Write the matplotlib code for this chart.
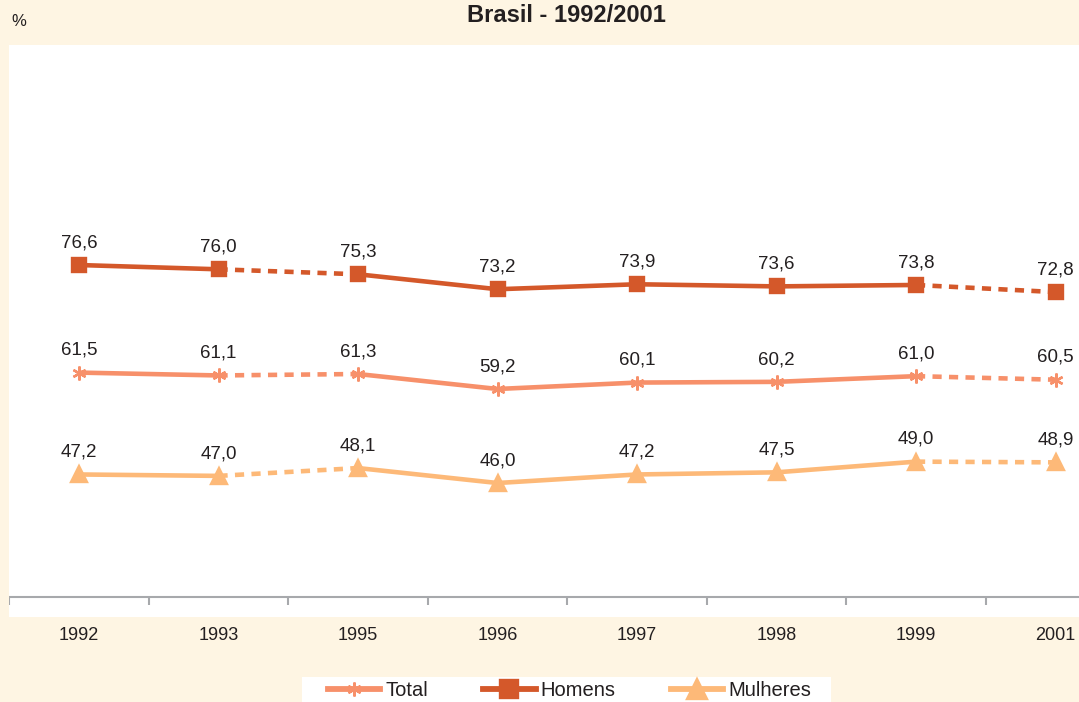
import matplotlib.pyplot as plt
from matplotlib.lines import Line2D
from matplotlib.patches import Rectangle

# Data
years = ['1992', '1993', '1995', '1996', '1997', '1998', '1999', '2001']
total = [61.5, 61.1, 61.3, 59.2, 60.1, 60.2, 61.0, 60.5]
homens = [76.6, 76.0, 75.3, 73.2, 73.9, 73.6, 73.8, 72.8]
mulheres = [47.2, 47.0, 48.1, 46.0, 47.2, 47.5, 49.0, 48.9]

# segments drawn dashed (gap years in the survey)
dashed_segments = [1, 6]

plt.rcParams['font.family'] = ['Liberation Sans', 'DejaVu Sans']

bg = '#FEF5E3'
txt = '#231F20'
# name, values, colour, marker, plot size, legend size
series = [
    ('Total', total, '#F7906A', (6, 2, 0), 10, 10),
    ('Homens', homens, '#D4582A', 's', 10, 13.5),
    ('Mulheres', mulheres, '#FDB978', '^', 11, 14),
]

W, H = 1079, 702
fig = plt.figure(figsize=(W / 100, H / 100), dpi=100, facecolor=bg)
ax = fig.add_axes([9 / W, (H - 617) / H, 1070 / W, (617 - 45) / H])
ax.set_facecolor('white')

x = list(range(len(years)))
for name, vals, color, marker, ms, _ in series:
    for i in range(len(vals) - 1):
        ls = (0, (2, 1.6)) if i in dashed_segments else '-'
        ax.plot(x[i:i + 2], vals[i:i + 2], color=color, lw=3.3, ls=ls,
                solid_capstyle='butt', dash_capstyle='butt', zorder=2)
    ax.plot(x, vals, ls='none', marker=marker, ms=ms, color=color,
            mec=color, mew=1.7, zorder=3)
    for xi, v in zip(x, vals):
        ax.annotate(f'{v:.1f}'.replace('.', ','), (xi, v), xytext=(0, 16),
                    textcoords='offset points', ha='center', va='center',
                    fontsize=13.5, color=txt)

# axis line with category separators
ax.axhline(30, color='#A7A9AC', lw=1.5, zorder=1)
ax.vlines([i - 0.5 for i in range(len(years) + 1)], 30 - 8 / 7.124, 30,
          color='#A7A9AC', lw=1.5, zorder=1)

ax.set_xlim(-70 / 139.5, 1000 / 139.5)
ax.set_ylim(30 - 20 / 7.124, 30 + 552 / 7.124)
ax.set_xticks(x)
ax.set_xticklabels(years, fontsize=13, color=txt)
ax.tick_params(axis='x', length=0, pad=7)
ax.set_yticks([])
for s in ax.spines.values():
    s.set_visible(False)

fig.text(566 / W, 1 - 15 / H, 'Brasil - 1992/2001', ha='center', va='center',
         fontsize=17, fontweight='bold', color=txt)
fig.text(11 / W, 1 - 21 / H, '%', ha='left', va='center', fontsize=12,
         color=txt)

# legend: white strip at the bottom edge
fig.patches.append(Rectangle((302 / W, 0), (831 - 302) / W, (H - 677) / H,
                             transform=fig.transFigure, facecolor='white',
                             edgecolor='none', zorder=0))
handles = [Line2D([], [], color=c, lw=4.2, marker=m, ms=lms, mec=c, mew=1.7)
           for _, _, c, m, _, lms in series]
labels = [s[0] for s in series]
leg = fig.legend(handles, labels, loc='center', ncol=3,
                 bbox_to_anchor=(569.5 / W, 1 - 691 / H), fontsize=14.5,
                 frameon=False, handlelength=2.6, handletextpad=0.25,
                 columnspacing=2.75, borderpad=0, borderaxespad=0)
for t in leg.get_texts():
    t.set_color(txt)

fig.savefig('out.png', dpi=100, facecolor=bg)
